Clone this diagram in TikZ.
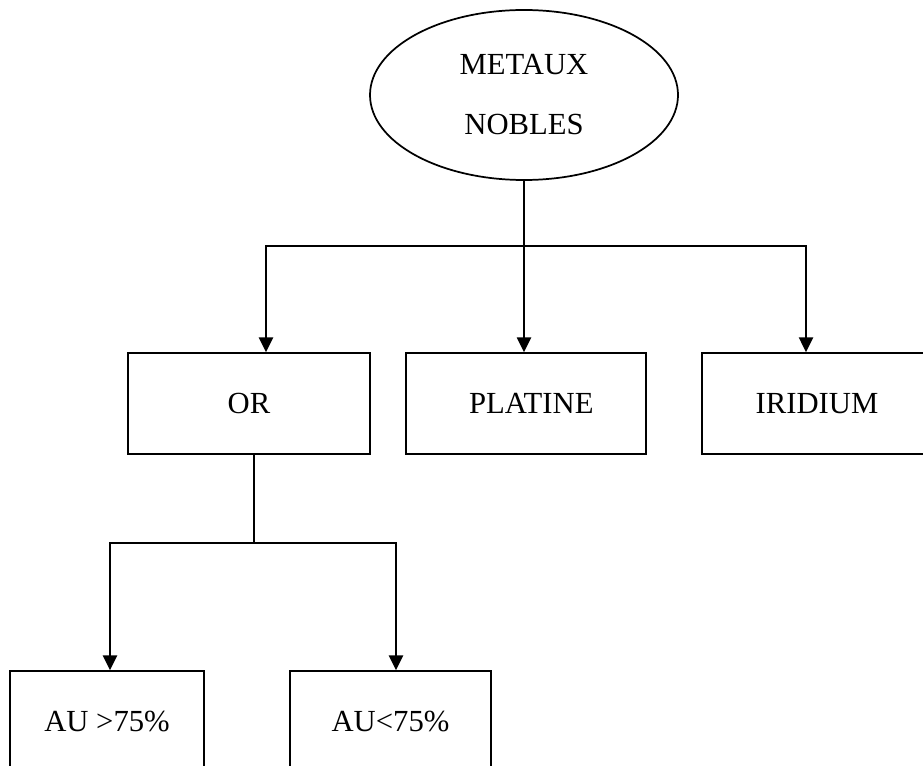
\documentclass[tikz,border=0pt]{standalone}
\usepackage{fontspec}
\setmainfont{Liberation Serif}
\usetikzlibrary{arrows.meta,shapes.geometric}

\begin{document}
\begin{tikzpicture}[x=0.75pt, y=-0.75pt,
  every node/.style={font=\fontsize{23}{28}\selectfont},
  box/.style={draw, rectangle, line width=1.3pt, minimum height=75.75pt, inner sep=0pt},
  link/.style={line width=1.5pt, line cap=rect},
  arr/.style={line width=1.5pt, -{Triangle[length=11pt, width=10.5pt]}}]
  \useasboundingbox (0,0) rectangle (923,766);
  \clip (0,0) rectangle (923,766);
  % racine
  \node[draw, ellipse, line width=1.3pt, minimum width=231pt, minimum height=127.5pt, align=center]
    (metaux) at (524,95) {METAUX\\[17pt]NOBLES};
  % premier niveau
  \node[box, minimum width=181.5pt] (or) at (249,403.5) {OR};
  \node[box, minimum width=180pt] (platine) at (526,403.5) {\hspace{8pt}PLATINE};
  \node[box, minimum width=172.5pt] (iridium) at (817,403.5) {IRIDIUM};
  % second niveau
  \node[box, minimum width=145.5pt] (augt) at (107,721.5) {AU >75\%};
  \node[box, minimum width=150.75pt] (ault) at (390.5,721.5) {AU<75\%};
  % embranchements
  \coordinate (bl) at (266,246);
  \coordinate (br) at (806,246);
  \coordinate (orjoin) at (254,543);
  \coordinate (jl) at (110,543);
  \coordinate (jr) at (396,543);
  \draw[link] (bl) -- (br);
  \draw[arr] (metaux.south) -- (metaux.south |- platine.north);
  \draw[arr] (bl) -- (bl |- or.north);
  \draw[arr] (br) -- (br |- iridium.north);
  \draw[link] (orjoin |- or.south) -- (orjoin);
  \draw[link] (jl) -- (jr);
  \draw[arr] (jl) -- (jl |- augt.north);
  \draw[arr] (jr) -- (jr |- ault.north);
\end{tikzpicture}
\end{document}
